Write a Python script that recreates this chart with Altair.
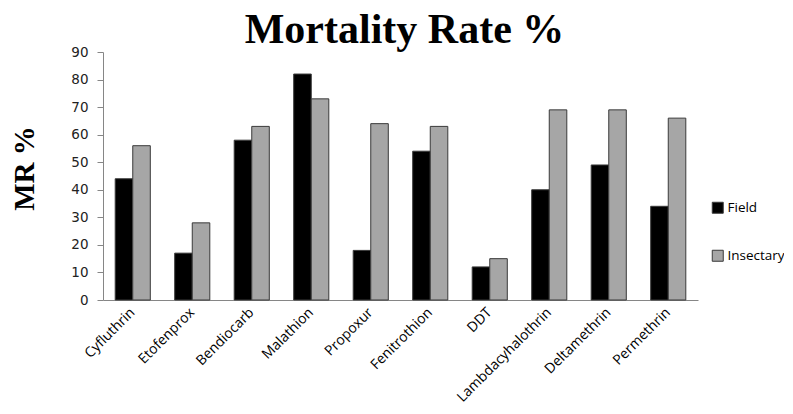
import altair as alt
import pandas as pd

insecticides = ["Cyfluthrin", "Etofenprox", "Bendiocarb", "Malathion", "Propoxur",
                "Fenitrothion", "DDT", "Lambdacyhalothrin", "Deltamethrin", "Permethrin"]
field = [44, 17, 58, 82, 18, 54, 12, 40, 49, 34]
insectary = [56, 28, 63, 73, 64, 63, 15, 69, 69, 66]
series = ["Field", "Insectary"]
y_ticks = [0, 10, 20, 30, 40, 50, 60, 70, 80, 90]

rows = []
for name, f, i in zip(insecticides, field, insectary):
    rows.append({"Insecticide": name, "Group": series[0], "MR": f})
    rows.append({"Insecticide": name, "Group": series[1], "MR": i})
df = pd.DataFrame(rows)

chart = alt.Chart(df).mark_bar(stroke="#3a3a3a", strokeWidth=1).encode(
    x=alt.X("Insecticide:N", sort=insecticides,
            scale=alt.Scale(paddingInner=0.41, paddingOuter=0.205),
            axis=alt.Axis(title=None, labelAngle=-45, labelAlign="right", labelBaseline="middle",
                          ticks=False, labelPadding=10, labelFont="Open Sans", labelFontSize=14,
                          labelColor="#000000", domainColor="#868686", labelOverlap=False)),
    xOffset=alt.XOffset("Group:N", sort=series, scale=alt.Scale(paddingInner=0, paddingOuter=0)),
    y=alt.Y("MR:Q", scale=alt.Scale(domain=[0, 90], nice=False),
            axis=alt.Axis(values=y_ticks, grid=False, tickSize=6, tickColor="#868686",
                          domainColor="#868686", labelFont="DejaVu Sans", labelFontSize=13.5,
                          labelColor="#222222", labelPadding=9,
                          title="MR %", titleFont="Liberation Serif", titleFontSize=29,
                          titleFontWeight="bold", titleColor="#000000", titleAngle=270,
                          titleAlign="center", titleBaseline="middle", titleX=-79, titleY=116)),
    color=alt.Color("Group:N", sort=series,
                    scale=alt.Scale(domain=series, range=["#000000", "#a6a6a6"]),
                    legend=alt.Legend(title=None, orient="none", legendX=608, legendY=149,
                                      symbolType="square", symbolSize=121,
                                      symbolStrokeColor="#3a3a3a", symbolStrokeWidth=1,
                                      labelFont="Open Sans", labelFontSize=13.5, labelColor="#000000",
                                      rowPadding=32, labelOffset=3)),
).properties(
    width=595, height=248,
    title=alt.TitleParams("Mortality Rate %", font="Liberation Serif", fontSize=42,
                          fontWeight="bold", color="#000000", anchor="middle",
                          baseline="alphabetic", offset=0, dx=4, dy=40),
    autosize=alt.AutoSizeParams(type="none"),
    padding={"left": 95, "top": 44, "right": 86, "bottom": 106},
).configure_view(stroke=None)

chart.save("out.html", embed_options={"renderer": "svg", "actions": False})
